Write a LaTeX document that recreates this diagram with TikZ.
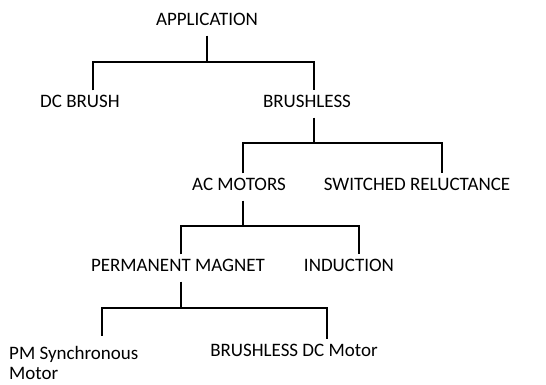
\documentclass[tikz,border=0pt]{standalone}
\usepackage{fontspec}
\setmainfont{Carlito}

\begin{document}
\begin{tikzpicture}[x=1pt, y=-1pt,
    lbl/.style={inner sep=0pt, outer ysep=10.5pt, font=\fontsize{19}{20}\selectfont},
    caplbl/.style={lbl, text height=0.63em, text depth=0pt},
    link/.style={line width=1.2pt}
  ]
    \useasboundingbox (0,0) rectangle (546,385);
    % labels
    \node[caplbl] (app) at (207,22) {APPLICATION};
    \node[caplbl] (dcb) at (80,104) {DC BRUSH};
    \node[caplbl] (brl) at (307,104) {BRUSHLESS};
    \node[caplbl] (acm) at (239,187) {AC MOTORS};
    \node[caplbl] (swr) at (417,187) {SWITCHED RELUCTANCE};
    \node[caplbl] (pmg) at (178,268) {PERMANENT MAGNET};
    \node[caplbl] (ind) at (349,268) {INDUCTION};
    \node[lbl, anchor=north west, align=left] (pms) at (9,335.5) {PM Synchronous\\Motor};
    \node[caplbl] (bdc) at (294,353) {BRUSHLESS DC Motor};
    % bus ends
    \coordinate (b1l) at (93,62);   \coordinate (b1r) at (314,62);
    \coordinate (b2l) at (243,143); \coordinate (b2r) at (442,143);
    \coordinate (b3l) at (181,226); \coordinate (b3r) at (359,226);
    \coordinate (b4l) at (102,308); \coordinate (b4r) at (327,308);
    % parent stems
    \draw[link] (app.south) -- (app.south |- b1l);
    \draw[link] (brl.south -| b1r) -- (b1r |- b2l);
    \draw[link] (acm.south -| b2l) -- (b2l |- b3l);
    \draw[link] (pmg.south -| b3l) -- (b3l |- b4l);
    % buses down to children
    \foreach \l/\r/\a/\b in {b1l/b1r/dcb/brl, b2l/b2r/acm/swr, b3l/b3r/pmg/ind, b4l/b4r/pms/bdc}
      \draw[link] (\a.north -| \l) |- (\r) -- (\b.north -| \r);
\end{tikzpicture}
\end{document}
